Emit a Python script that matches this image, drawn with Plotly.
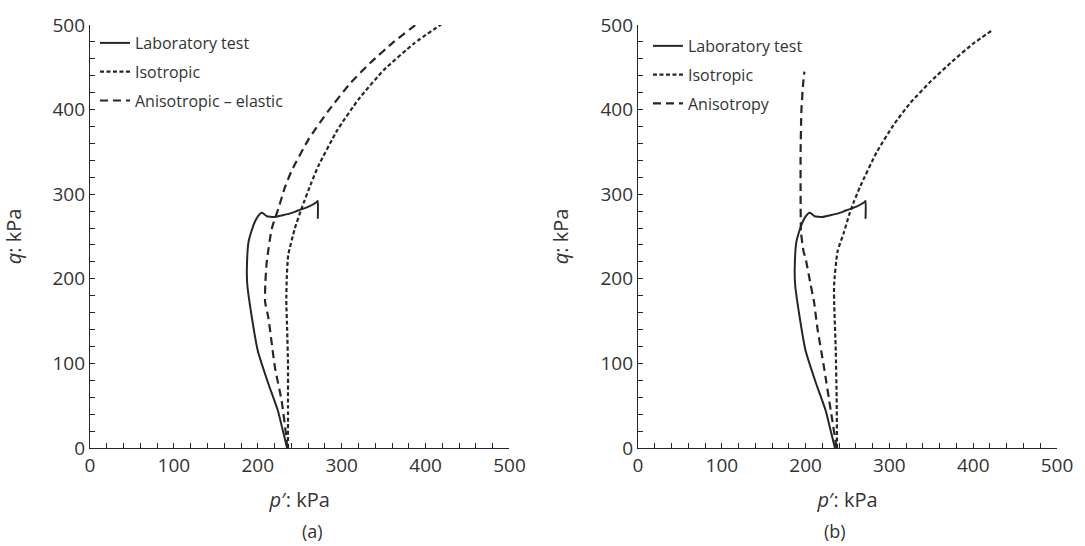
import plotly.graph_objects as go

# ---------------- data (p' kPa, q kPa) ----------------
lab_p = [235, 230, 224, 212.6, 200, 193, 187.5, 187, 189, 193, 196.8, 201, 204.7, 207.5, 210.7, 220, 228.4, 238, 248, 260, 270, 271.5, 271.5]
lab_q = [0, 20, 44, 76, 115, 154, 193, 212, 243.6, 258, 268, 275, 278, 276.5, 274, 273, 274.8, 277, 280.7, 285, 290.5, 292, 271]

iso_a_p = [236, 236, 236, 235, 234, 234.5, 236.3, 244, 252, 264, 272, 295, 320, 350, 386, 422]
iso_a_q = [0, 50, 100, 140, 173, 200, 228, 259, 282.6, 314, 333, 376, 412, 446.5, 478, 503]

ani_a_p = [235, 234, 228.4, 220.5, 212.6, 208.7, 209, 210.7, 216.6, 224.4, 232.3, 240, 260, 283.7, 311, 335, 362, 392]
ani_a_q = [0, 13, 56, 95, 154, 173, 195, 220, 259, 282.6, 308, 327, 364, 398, 432, 456, 480, 503]

iso_b_p = [237.5, 237, 236, 234, 234, 238, 245.8, 251.7, 258, 265.5, 285, 305, 325, 350, 375, 400, 423]
iso_b_q = [0, 60, 115, 173, 193, 232, 255, 275, 292, 310, 350, 382, 408, 434, 457, 478, 494]

ani_b_p = [237, 230, 222, 214, 210, 206, 200, 197.6, 194.5, 194, 194, 195, 197, 198.5]
ani_b_q = [0, 44.5, 95, 142, 173, 193, 224, 232, 255, 300, 350, 400, 430, 445]

legend_a = ["Laboratory test", "Isotropic", "Anisotropic – elastic"]
legend_b = ["Laboratory test", "Isotropic", "Anisotropy"]

tick_vals = list(range(0, 501, 20))
tick_text = [str(v) if v % 100 == 0 else "" for v in tick_vals]

# ---------------- figure ----------------
INK = "#262626"
TXT = "#333333"
FONT = "Open Sans"

fig = go.Figure()

def add(p, q, name, dash, xa, ya, leg, grp, width=2.0):
    fig.add_trace(go.Scatter(
        x=p, y=q, mode="lines", name=name,
        line=dict(color=INK, width=width, dash=dash, shape="spline", smoothing=0.5),
        xaxis=xa, yaxis=ya, legend=leg, legendgroup=grp,
    ))

SHORT = "4px,2.5px"
LONG = "8px,5px"

add(lab_p, lab_q, legend_a[0], "solid", "x", "y", "legend", "a1", 2.0)
add(iso_a_p, iso_a_q, legend_a[1], SHORT, "x", "y", "legend", "a2", 2.2)
add(ani_a_p, ani_a_q, legend_a[2], LONG, "x", "y", "legend", "a3", 2.2)

add(lab_p, lab_q, legend_b[0], "solid", "x2", "y2", "legend2", "b1", 2.0)
add(iso_b_p, iso_b_q, legend_b[1], SHORT, "x2", "y2", "legend2", "b2", 2.2)
add(ani_b_p, ani_b_q, legend_b[2], LONG, "x2", "y2", "legend2", "b3", 2.2)

W, H = 1085, 546
ML, MR, MT, MB = 87, 24, 20, 98
pw = W - ML - MR
ph = H - MT - MB
dom_a = [0, 422.5 / pw]
dom_b = [(639 - ML) / pw, 1]

axis_common = dict(
    range=[0, 500], showgrid=False, zeroline=False,
    showline=True, linecolor=INK, linewidth=1.3,
    ticks="inside", ticklen=5, tickwidth=1.2, tickcolor=INK,
    tickmode="array", tickvals=tick_vals, ticktext=tick_text,
    tickfont=dict(family=FONT, size=19, color=TXT),
    fixedrange=True,
)

xt = dict(text="<i>p</i>′: kPa", font=dict(family=FONT, size=20, color=TXT), standoff=16)
yt = dict(text="<i>q</i>: kPa", font=dict(family=FONT, size=20, color=TXT), standoff=26)

def py(px):
    return (H - MB - px) / ph

fig.update_layout(
    width=W, height=H,
    margin=dict(l=ML, r=MR, t=MT, b=MB),
    paper_bgcolor="white", plot_bgcolor="white",
    font=dict(family=FONT, color=TXT),
    xaxis=dict(domain=dom_a, anchor="y", title=xt, **axis_common),
    yaxis=dict(domain=[0, 1], anchor="x", title=yt, **axis_common),
    xaxis2=dict(domain=dom_b, anchor="y2", title=xt, **axis_common),
    yaxis2=dict(domain=[0, 1], anchor="x2", title=yt, **axis_common),
    legend=dict(x=(92 - ML) / pw, y=py(21), xanchor="left", yanchor="top",
                bgcolor="rgba(0,0,0,0)", font=dict(family=FONT, size=16, color=TXT),
                tracegroupgap=5, itemwidth=30),
    legend2=dict(x=(649 - ML) / pw, y=py(24), xanchor="left", yanchor="top",
                 bgcolor="rgba(0,0,0,0)", font=dict(family=FONT, size=16, color=TXT),
                 tracegroupgap=5, itemwidth=30),
    showlegend=True,
    annotations=[
        dict(text="(a)", x=sum(dom_a) / 2, y=py(532), xref="paper", yref="paper",
             showarrow=False, font=dict(family=FONT, size=18, color=TXT), yanchor="middle"),
        dict(text="(b)", x=sum(dom_b) / 2, y=py(532), xref="paper", yref="paper",
             showarrow=False, font=dict(family=FONT, size=18, color=TXT), yanchor="middle"),
    ],
)

fig.write_html("out.html", config={"displayModeBar": False},
               post_script="document.body.style.margin='0';")
